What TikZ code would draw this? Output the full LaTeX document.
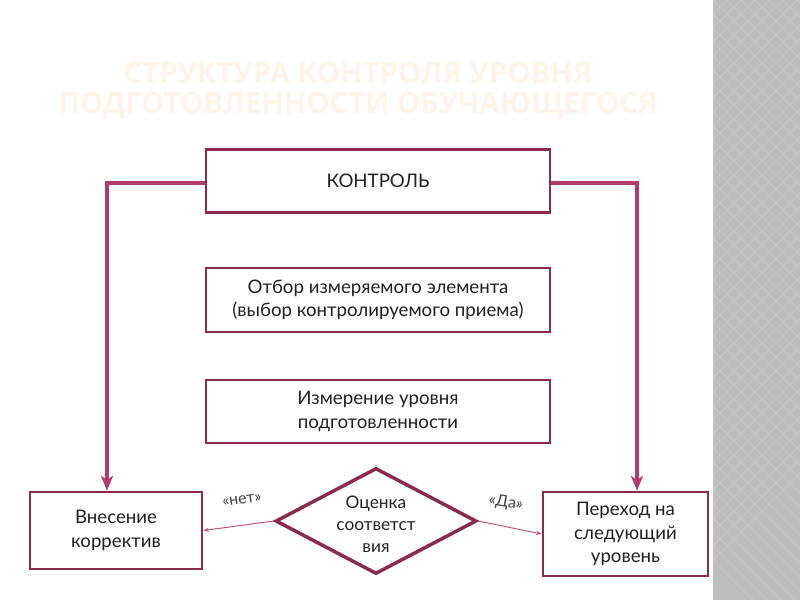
\documentclass[tikz,border=0pt]{standalone}
\usepackage{fontspec}
\setmainfont{Lato}
\newfontfamily\titlefont{Open Sans}
\usetikzlibrary{arrows.meta,shapes.geometric,shadows}
\definecolor{boxline}{HTML}{8A2A4E}
\definecolor{conn}{HTML}{B23C6C}
\definecolor{thin}{HTML}{B8506F}
\definecolor{titlecol}{HTML}{FDF4EA}
\definecolor{band}{HTML}{BDBDBD}
\definecolor{bandlight}{HTML}{C6C6C6}
\definecolor{txt}{HTML}{222222}
\tikzset{
  stepbox/.style={draw=boxline, line width=2.2pt, fill=white, inner sep=0pt,
    align=center, text=txt, font=\fontsize{14}{17.5}\selectfont,
    drop shadow={opacity=0.25, shadow xshift=0.8pt, shadow yshift=-0.8pt}},
  decision/.style={draw=boxline, line width=2.6pt, diamond, inner sep=0pt, fill=white},
  mainconn/.style={draw=conn, line width=3pt, line join=miter,
    -{Stealth[length=11pt, width=9pt, inset=3pt]}},
  thinconn/.style={draw=thin, line width=0.7pt, -{Stealth[length=4pt, width=3pt]}},
  answer/.style={font=\fontsize{12}{14}\selectfont, text=txt!85},
}
\begin{document}
\begin{tikzpicture}[x=0.75pt, y=-0.75pt]
\useasboundingbox (0,0) rectangle (800,600);
\fill[white] (0,0) rectangle (800,600);
% grey band
\fill[band] (713,0) rectangle (800,600);
\begin{scope}
\clip (713,0) rectangle (800,600);
\foreach \i in {-40,...,40} {
  \draw[bandlight, line width=0.6pt] (713+\i*14,0) -- ++(600,600);
  \draw[bandlight, line width=0.6pt] (713+\i*14,0) -- ++(-600,600);
}
\end{scope}
% title
\node[font=\titlefont\bfseries\fontsize{22}{22.5}\selectfont, text=titlecol, align=center] (title) at (358,91)
  {СТРУКТУРА КОНТРОЛЯ УРОВНЯ\\ПОДГОТОВЛЕННОСТИ ОБУЧАЮЩЕГОСЯ};
% boxes
\node[stepbox, minimum width=258pt, minimum height=47.25pt] (k) at (378,181) {КОНТРОЛЬ};
\node[stepbox, minimum width=258pt, minimum height=48pt] (sel) at (378,300)
  {Отбор измеряемого элемента\\(выбор контролируемого приема)};
\node[stepbox, minimum width=258pt, minimum height=47.25pt] (meas) at (378,411.5)
  {Измерение уровня\\подготовленности};
\node[stepbox, minimum width=129pt, minimum height=57.75pt] (lb) at (116,530.5)
  {Внесение\\корректив};
\node[stepbox, minimum width=123.75pt, minimum height=63pt] (rb) at (625.5,534)
  {Переход на\\следующий\\уровень};
% decision
\node[decision, minimum width=150.75pt, minimum height=79.5pt] (d) at (376,521) {};
\node[align=center, text=txt, font=\fontsize{13}{16.5}\selectfont] (dt) at (376,524)
  {Оценка\\соответст\\вия};
% main connectors
\coordinate (lc) at (107,183);
\coordinate (rc) at (637,183);
\draw[mainconn] (k.west |- lc) -- (lc) -- (lc |- lb.north);
\draw[mainconn] (k.east |- rc) -- (rc) -- (rc |- rb.north);
% decision outputs
\draw[thinconn] (d.west) -- (lb.east);
\draw[thinconn] (d.east) -- (rb.west);
\node[answer, rotate=8] (no) at (242,500) {«нет»};
\node[answer, rotate=-9] (yes) at (506,503) {«Да»};
\end{tikzpicture}
\end{document}
